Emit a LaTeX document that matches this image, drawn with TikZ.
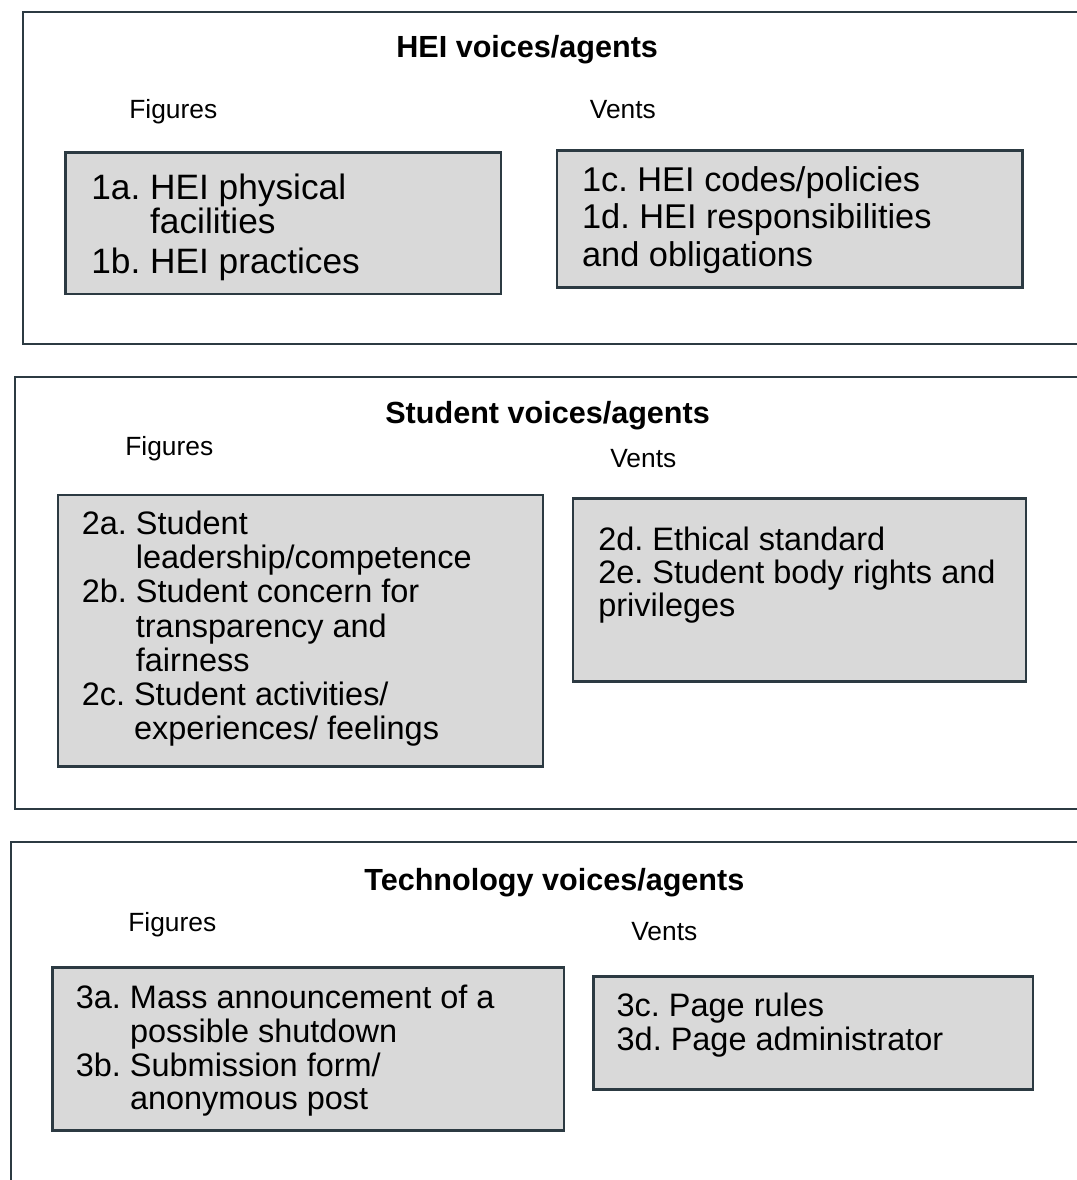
\documentclass[tikz,border=0pt]{standalone}
\usepackage{fontspec}
\setmainfont{Liberation Sans}
\frenchspacing
\definecolor{FrameColor}{RGB}{44,58,66}
\definecolor{BoxColor}{RGB}{217,217,217}
\usetikzlibrary{positioning}
\tikzstyle{frame} = [line width=1.2pt, draw=FrameColor]
\tikzstyle{itembox} = [line width=1.5pt, draw=FrameColor, fill=BoxColor]
\tikzstyle{heading} = [anchor=base west, inner sep=0pt, font=\fontsize{17.4}{20}\selectfont\bfseries]
\tikzstyle{sublabel} = [anchor=base west, inner sep=0pt, font=\fontsize{15}{18}\selectfont]
\tikzstyle{itemtext} = [anchor=north west, inner sep=0pt, align=left]
\newcommand{\hangpad}[1]{\phantom{#1\ }}

\begin{document}
\begin{tikzpicture}[x=0.02cm, y=-0.02cm]
            \useasboundingbox (0,0) rectangle (1076,1180);

            % HEI voices/agents
            \draw[frame] (1080,11.7) -| (22.7,344.3) -- (1080,344.3);
            \node[heading] (heiTitle) at (396,57.3) {HEI voices/agents};
            \node[sublabel] (heiFig) at (129,118.3) {Figures};
            \node[sublabel] (heiVent) at (589.6,118.3) {Vents};
            \draw[itembox] (65.4,152.3) rectangle (501,294);
            \draw[itembox] (557,150.7) rectangle (1022.7,287.3);
            \node[itemtext, font=\fontsize{20.07}{19.45}\selectfont] (heiFigText) at (91,173.7)
                {1a. HEI physical\\ \hangpad{1a.}facilities\\[3.4pt] 1b. HEI practices};
            \node[itemtext, font=\fontsize{19.56}{21}\selectfont] (heiVentText) at (581.7,166)
                {1c. HEI codes/policies\\ 1d. HEI responsibilities\\[1.1pt] and obligations};

            % Student voices/agents
            \draw[frame] (1080,376.7) -| (15,809) -- (1080,809);
            \node[heading] (stuTitle) at (385,423.3) {Student voices/agents};
            \node[sublabel] (stuFig) at (125,455) {Figures};
            \node[sublabel] (stuVent) at (610,467.7) {Vents};
            \draw[itembox] (57.9,495) rectangle (542.9,766.7);
            \draw[itembox] (573,498.3) rectangle (1026,681.7);
            \node[itemtext, font=\fontsize{18.48}{19.45}\selectfont] (stuFigText) at (81.4,510.7)
                {2a. Student\\ \hangpad{2a.}leadership/competence\\ 2b. Student concern for\\
                 \hangpad{2b.}transparency and\\ \hangpad{2b.}fairness\\
                 2c. Student activities/\\ \hangpad{2c.}experiences/ feelings};
            \node[itemtext, font=\fontsize{18.48}{18.9}\selectfont] (stuVentText) at (598,526.7)
                {2d. Ethical standard\\ 2e. Student body rights and\\ privileges};

            % Technology voices/agents
            \draw[frame] (1080,841.7) -| (11,1185);
            \node[heading] (techTitle) at (364,890) {Technology voices/agents};
            \node[sublabel] (techFig) at (128,931.7) {Figures};
            \node[sublabel] (techVent) at (631,940) {Vents};
            \draw[itembox] (52.8,967.7) rectangle (564,1130.7);
            \draw[itembox] (593.7,976.7) rectangle (1033,1089.3);
            \node[itemtext, font=\fontsize{18.48}{19.2}\selectfont] (techFigText) at (75.5,984.8)
                {3a. Mass announcement of a\\ \hangpad{3a.}possible shutdown\\
                 3b. Submission form/\\ \hangpad{3b.}anonymous post};
            \node[itemtext, font=\fontsize{18.48}{19.3}\selectfont] (techVentText) at (616.3,992.7)
                {3c. Page rules\\ 3d. Page administrator};
\end{tikzpicture}
\end{document}
